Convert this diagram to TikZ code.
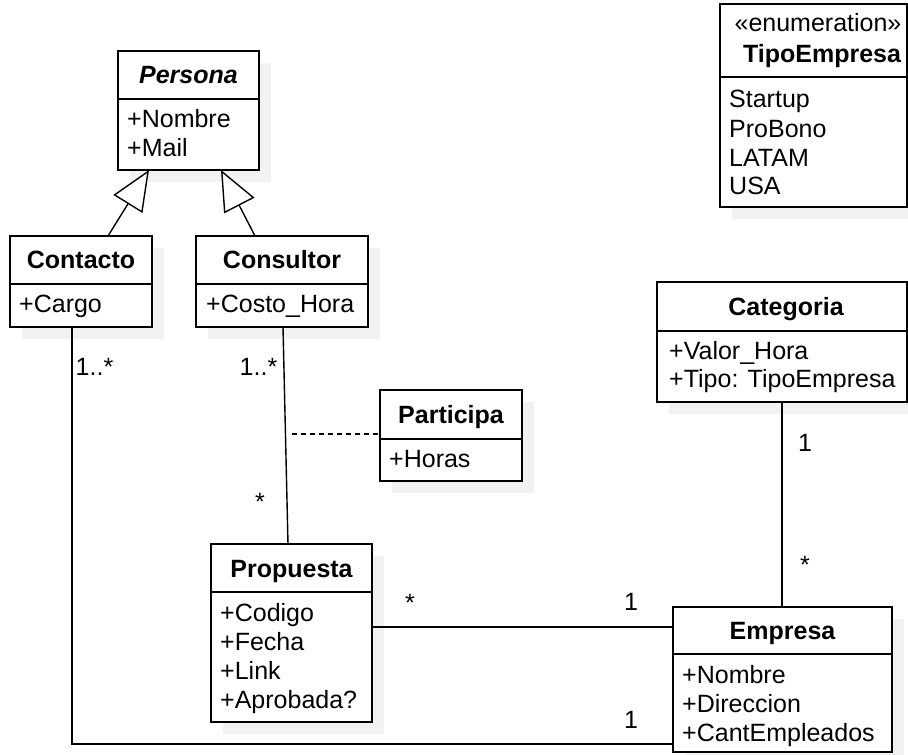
\documentclass[tikz,border=0pt]{standalone}
\usepackage{fontspec}
\setmainfont{Liberation Sans}
\usetikzlibrary{arrows.meta,shadows}
\definecolor{shadowgray}{RGB}{242,242,242}
\tikzset{
  umlbox/.style={draw, fill=white, line width=1.4pt, inner sep=0pt, outer sep=0pt, anchor=north west,
    drop shadow={shadow xshift=12pt, shadow yshift=-12pt, fill=shadowgray, opacity=1}},
  txt/.style={font=\fontsize{25}{29}\selectfont, inner sep=0pt, anchor=base west},
  ttl/.style={font=\fontsize{25}{29}\selectfont\bfseries, inner sep=0pt, anchor=base},
  lbl/.style={font=\fontsize{25}{29}\selectfont, inner sep=0pt, anchor=base},
  conn/.style={line width=1.4pt},
  gen/.style={conn, -{Triangle[open, length=40pt, width=34pt, fill=white]}},
  divline/.style={line width=1.4pt},
  assocdash/.style={line width=1.4pt, dash pattern=on 5pt off 4pt}
}
\begin{document}
\begin{tikzpicture}[x=1pt,y=-1pt]
\useasboundingbox (0,0) rectangle (908,755);

% ---------- boxes ----------
\node[umlbox, minimum width=141pt, minimum height=119pt] (persona) at (118,51) {};
\node[umlbox, minimum width=142pt, minimum height=91pt] (contacto) at (10,236) {};
\node[umlbox, minimum width=172pt, minimum height=91pt] (consultor) at (196,236) {};
\node[umlbox, minimum width=187pt, minimum height=203pt] (tipo) at (720,4) {};
\node[umlbox, minimum width=250pt, minimum height=120pt] (categoria) at (657,282) {};
\node[umlbox, minimum width=142pt, minimum height=91pt] (participa) at (380,390) {};
\node[umlbox, minimum width=161pt, minimum height=178pt] (propuesta) at (211,544) {};
\node[umlbox, minimum width=219pt, minimum height=145pt] (empresa) at (673,607) {};

% ---------- dividers ----------
\draw[divline] (persona.west |- 0,99) -- (persona.east |- 0,99);
\draw[divline] (contacto.west |- 0,284) -- (contacto.east |- 0,284);
\draw[divline] (consultor.west |- 0,284) -- (consultor.east |- 0,284);
\draw[divline] (tipo.west |- 0,77) -- (tipo.east |- 0,77);
\draw[divline] (categoria.west |- 0,331) -- (categoria.east |- 0,331);
\draw[divline] (participa.west |- 0,439) -- (participa.east |- 0,439);
\draw[divline] (propuesta.west |- 0,592) -- (propuesta.east |- 0,592);
\draw[divline] (empresa.west |- 0,654) -- (empresa.east |- 0,654);

% ---------- texts ----------
\node[ttl, font=\fontsize{25}{29}\selectfont\bfseries\itshape] (tPersona) at (188.5,83) {Persona};
\node[txt] (aP1) at (127,127) {+Nombre};
\node[txt] (aP2) at (127,156) {+Mail};

\node[ttl] (tContacto) at (81,268) {Contacto};
\node[txt] (aC1) at (19,312) {+Cargo};

\node[ttl] (tConsultor) at (282,268) {Consultor};
\node[txt] (aK1) at (206,312) {+Costo\_Hora};

\node[lbl] (tEnum) at (818,31) {«enumeration»};
\node[ttl] (tTipo) at (822,62) {TipoEmpresa};
\node[txt] (aT1) at (729,107) {Startup};
\node[txt] (aT2) at (729,137) {ProBono};
\node[txt] (aT3) at (729,166) {LATAM};
\node[txt] (aT4) at (729,194) {USA};

\node[ttl] (tCategoria) at (786,315) {Categoria};
\node[txt] (aG1) at (669,359) {+Valor\_Hora};
\node[txt] (aG2) at (669,387) {+Tipo: TipoEmpresa};

\node[ttl] (tParticipa) at (451,423) {Participa};
\node[txt] (aR1) at (389,467) {+Horas};

\node[ttl] (tPropuesta) at (291.5,577) {Propuesta};
\node[txt] (aQ1) at (220,621) {+Codigo};
\node[txt] (aQ2) at (220,650) {+Fecha};
\node[txt] (aQ3) at (220,679) {+Link};
\node[txt] (aQ4) at (220,708) {+Aprobada?};

\node[ttl] (tEmpresa) at (782.5,639) {Empresa};
\node[txt] (aE1) at (682,683) {+Nombre};
\node[txt] (aE2) at (682,712) {+Direccion};
\node[txt] (aE3) at (682,741) {+CantEmpleados};

% ---------- connectors ----------
\draw[gen] (contacto.north -| 108,0) -- (persona.south -| 149,0);
\draw[gen] (consultor.north -| 255,0) -- (persona.south -| 221,0);

\draw[conn] (contacto.south -| 72,0) -- (72,744) -- (empresa.west |- 0,744);
\draw[conn] (consultor.south -| 283,0) -- (propuesta.north -| 288,0);
\coordinate (dashstart) at (292,434);
\draw[assocdash] (dashstart) -- (participa.west |- 0,434);
\draw[conn] (propuesta.east |- 0,627) -- (empresa.west |- 0,627);
\draw[conn] (categoria.south -| 782,0) -- (empresa.north -| 782,0);

% ---------- multiplicities ----------
\node[lbl] (m1) at (94.5,375) {1..*};
\node[lbl] (m2) at (258.5,375) {1..*};
\node[lbl] (m3) at (260,510) {*};
\node[lbl] (m4) at (410,611) {*};
\node[lbl] (m5) at (631,610) {1};
\node[lbl] (m6) at (805,451) {1};
\node[lbl] (m7) at (805,573) {*};
\node[lbl] (m8) at (631,728) {1};
\end{tikzpicture}
\end{document}
